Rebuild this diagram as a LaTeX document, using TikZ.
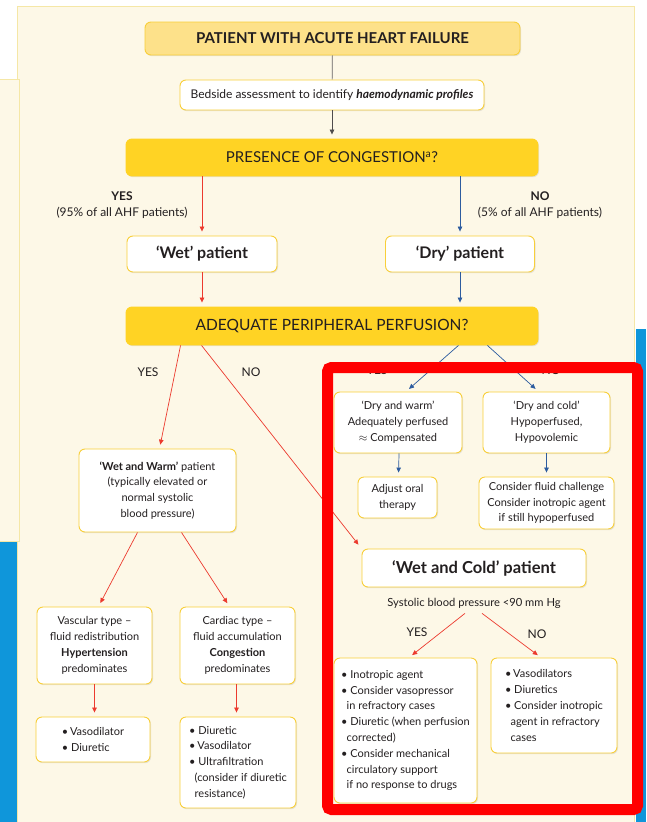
\documentclass[tikz,border=0pt]{standalone}
\usepackage{fontspec}
\setmainfont{Lato}
\usetikzlibrary{arrows.meta,shadows,calc}

\definecolor{cream}{HTML}{FDF8E7}
\definecolor{panelline}{HTML}{F5E7A6}
\definecolor{gold}{HTML}{FFD324}
\definecolor{goldline}{HTML}{F8CF3A}
\definecolor{titlefill}{HTML}{FDE18A}
\definecolor{ink}{HTML}{231F20}
\definecolor{arrred}{HTML}{EC3A2E}
\definecolor{arrblue}{HTML}{2D5C9F}
\definecolor{framered}{HTML}{FF0000}
\definecolor{barblue}{HTML}{0F96DA}

\tikzset{
  card/.style={draw=goldline, line width=0.9pt, fill=white, rounded corners=6pt,
    align=center, inner sep=0pt, text=ink,
    drop shadow={shadow xshift=1pt, shadow yshift=-1.2pt, opacity=0.18}},
  goldcard/.style={card, fill=gold, draw=gold},
  titlecard/.style={card, fill=titlefill, draw=goldline},
  body/.style={font=\fontsize{11}{15.8}\selectfont},
  lbl/.style={text=ink, align=center, inner sep=0pt},
  link/.style={line width=0.7pt, shorten >=4pt},
  rarr/.style={link, draw=arrred, -{Triangle[length=5pt,width=4.5pt]}},
  barr/.style={link, draw=arrblue, -{Triangle[length=5pt,width=4.5pt]}},
  karr/.style={link, draw=ink!80, -{Triangle[length=5pt,width=4.5pt]}},
}

\begin{document}
\begin{tikzpicture}[x=1pt,y=-1pt]
\useasboundingbox (0,0) rectangle (646,822);

% page background and side panels
\fill[white] (0,0) rectangle (646,822);
\fill[cream] (17,6) rectangle (634,822);
\draw[panelline, line width=0.8pt] (17,822) -- (17,6) -- (634,6) -- (634,822);
\fill[cream] (0,79) rectangle (19,541);
\draw[panelline, line width=0.9pt] (0,79) -- (19,79) -- (19,541) -- (0,541);
\fill[barblue] (0,542) rectangle (17,822);
\fill[barblue] (636,329) rectangle (646,822);

% top of the flow
\node[titlecard, minimum width=375, minimum height=33,
      font=\fontsize{15}{17}\selectfont\bfseries] (title) at (332.5,38.5)
      {PATIENT WITH ACUTE HEART FAILURE};
\node[card, minimum width=304, minimum height=30, font=\fontsize{12}{14}\selectfont]
      (bed) at (332,95) {Bedside assessment to identify \textbf{\textit{haemodynamic profiles}}};
\node[goldcard, minimum width=412, minimum height=37, font=\fontsize{15}{17}\selectfont]
      (cong) at (332,157.5) {PRESENCE OF CONGESTION\textsuperscript{a}?};

\node[lbl, font=\fontsize{12}{16}\selectfont] (yes1) at (122,205)
      {\textbf{YES}\\(95\% of all AHF patients)};
\node[lbl, font=\fontsize{12}{16}\selectfont] (no1) at (540,205)
      {\textbf{NO}\\(5\% of all AHF patients)};

\node[card, minimum width=150, minimum height=36, font=\fontsize{16}{18}\selectfont\bfseries]
      (wet) at (202,254) {`Wet' patient};
\node[card, minimum width=149, minimum height=36, font=\fontsize{16}{18}\selectfont\bfseries]
      (dry) at (460,254) {`Dry' patient};

\node[goldcard, minimum width=412, minimum height=38, font=\fontsize{15.5}{17}\selectfont]
      (adeq) at (332,326) {ADEQUATE PERIPHERAL PERFUSION?};

\node[lbl, font=\fontsize{12}{14}\selectfont] (yes2) at (148,372) {YES};
\node[lbl, font=\fontsize{12}{14}\selectfont] (no2) at (251,372) {NO};
\node[lbl, font=\fontsize{12}{14}\selectfont] (yes3) at (377,370) {YES};
\node[lbl, font=\fontsize{12}{14}\selectfont] (no3) at (551,370) {NO};

% warm side
\node[card, body, minimum width=157, minimum height=83] (ww) at (157.5,490.5)
      {\textbf{`Wet and Warm'} patient\\(typically elevated or\\normal systolic\\blood pressure)};
\node[card, body, minimum width=115, minimum height=77] (vasc) at (94.5,645.5)
      {Vascular type --\\fluid redistribution\\\textbf{Hypertension}\\predominates};
\node[card, body, minimum width=115, minimum height=77] (cardt) at (237.5,645.5)
      {Cardiac type --\\fluid accumulation\\\textbf{Congestion}\\predominates};
\node[card, body, align=left, minimum width=114, minimum height=45] (vlist) at (93,739.5)
      {\textbullet\,Vasodilator\\\textbullet\ Diuretic};
\node[card, body, align=left, minimum width=116, minimum height=91] (dlist) at (238,762.5)
      {\textbullet\ Diuretic\\\textbullet\,Vasodilator\\\textbullet\ Ultrafiltration\\
       \hspace*{0.5em}(consider if diuretic\\\hspace*{0.5em}resistance)};

% dry side
\node[card, body, minimum width=128, minimum height=61] (dw) at (398,422.5)
      {`Dry and warm'\\Adequately perfused\\$\approx$ Compensated};
\node[card, body, minimum width=127, minimum height=61] (dc) at (546.5,422.5)
      {`Dry and cold'\\Hypoperfused,\\Hypovolemic};
\node[card, body, minimum width=79, minimum height=41] (oral) at (397.5,497.5)
      {Adjust oral\\therapy};
\node[card, body, minimum width=135, minimum height=52] (fluid) at (546.5,503)
      {Consider fluid challenge\\Consider inotropic agent\\if still hypoperfused};

% cold side
\node[card, minimum width=224, minimum height=38, font=\fontsize{16.5}{18}\selectfont\bfseries]
      (wc) at (474,568) {`Wet and Cold' patient};
\node[lbl, font=\fontsize{11.2}{13}\selectfont] (sbp) at (474,603)
      {Systolic blood pressure <90 mm Hg};
\node[lbl, font=\fontsize{12}{14}\selectfont] (yes4) at (417,632) {YES};
\node[lbl, font=\fontsize{12}{14}\selectfont] (no4) at (537,634) {NO};
\node[card, body, align=left, minimum width=143, minimum height=145] (ylist) at (405.5,730.5)
      {\textbullet\ Inotropic agent\\\textbullet\ Consider vasopressor\\
       \hspace*{0.5em}in refractory cases\\\textbullet\ Diuretic (when perfusion\\
       \hspace*{0.5em}corrected)\\\textbullet\ Consider mechanical\\
       \hspace*{0.5em}circulatory support\\\hspace*{0.5em}if no response to drugs};
\node[card, body, align=left, minimum width=126, minimum height=95] (nlist) at (554,705.5)
      {\textbullet\,Vasodilators\\\textbullet\ Diuretics\\\textbullet\ Consider inotropic\\
       \hspace*{0.5em}agent in refractory\\\hspace*{0.5em}cases};

% connectors
\draw[line width=0.7pt, draw=ink!70] (title) -- (bed);
\draw[karr] (bed) -- (cong);
\draw[rarr] (cong.south -| wet.north) -- (wet.north);
\draw[barr] (cong.south -| dry.north) -- (dry.north);
\draw[rarr] (wet) -- (adeq.north -| wet.south);
\draw[barr] (dry) -- (adeq.north -| dry.south);
\draw[rarr] ([xshift=55]adeq.south west) -- ([xshift=2]ww.north);
\draw[rarr, shorten >=5pt] ([xshift=76]adeq.south west) -- (wc.north west);
\draw[barr] ([xshift=-80]adeq.south east) -- ([xshift=8]dw.north);
\draw[barr] ([xshift=-51]adeq.south east) -- ([xshift=-8]dc.north);
\draw[barr] ([xshift=1]dw.south) -- ([xshift=1]oral.north);
\draw[barr] (dc.south) -- (fluid.north);
\draw[rarr] ([xshift=-20]ww.south) -- ([xshift=4]vasc.north);
\draw[rarr] ([xshift=24]ww.south) -- ([xshift=-8]cardt.north);
\draw[rarr] (vasc.south) -- (vasc.south |- vlist.north);
\draw[rarr] ([xshift=-1]cardt.south) -- ([xshift=-1]cardt.south |- dlist.north);
\draw[rarr] ([xshift=-9,yshift=-5]sbp.south) -- ([xshift=3.5]ylist.north);
\draw[rarr] ([xshift=8,yshift=-5]sbp.south) -- ([xshift=-13]nlist.north);

% highlight frame round the dry and cold branches
\draw[framered, line width=11pt, rounded corners=4pt] (327.5,367.5) rectangle (637.5,809.5);
\end{tikzpicture}
\end{document}
